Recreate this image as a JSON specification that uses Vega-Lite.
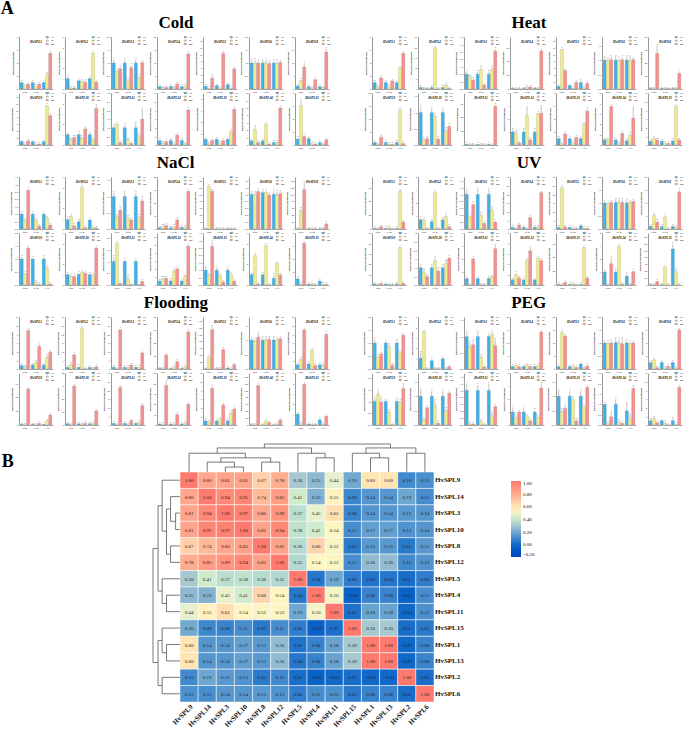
{"$schema":"https://vega.github.io/schema/vega-lite/v6.json","padding":0,"background":"white",
"title":{"text":"A","anchor":"start","font":"Liberation Serif","fontSize":18,"fontWeight":"bold","offset":-4,"dx":-1},
"config":{"view":{"stroke":null},"font":"Liberation Serif",
"axis":{"grid":false,"labelFont":"Liberation Serif","titleFont":"Liberation Serif","labelFontSize":2.6,"titleFontSize":2.8,"tickSize":1,"tickWidth":0.3,"labelPadding":0.5,"titlePadding":1,"titleFontWeight":"bold","domainColor":"#999","tickColor":"#666","labelColor":"#333"},
"axisY":{"domainWidth":1,"tickCount":5,"labelOverlap":false},"axisX":{"domainWidth":0.5,"domainColor":"#555","labelAngle":0,"title":null},
"header":{"title":null,"labelFont":"Liberation Serif","labelFontSize":3.4,"labelFontWeight":"bold","labelFontStyle":"italic","labelPadding":-7,"labelExpr":"'HvSPL'+datum.value"},
"legend":{"orient":"none","legendX":27,"legendY":-1,"title":null,"labelFontSize":2.4,"labelFont":"Liberation Serif","symbolType":"M-1.6,-0.85H1.6V0.85H-1.6Z","symbolSize":2.2,"symbolStrokeColor":"#333","symbolStrokeWidth":0.2,"rowPadding":0.4,"padding":0,"labelOffset":2.5,"symbolOffset":0,"columnPadding":0},
"title":{"font":"Liberation Serif","fontSize":17,"fontWeight":"bold","anchor":"middle","dx":5}},
"datasets":{
"cold":[
{"g":1,"t":"Root","c":"CK","v":1,"h":1.1,"l":"b","m":8},{"g":1,"t":"Root","c":"6h","v":0.5,"h":0.55,"l":"c"},{"g":1,"t":"Root","c":"24h","v":0.75,"h":0.81,"l":"b"},{"g":1,"t":"Stem","c":"CK","v":1,"h":1.1,"l":"a"},{"g":1,"t":"Stem","c":"6h","v":0.4,"h":0.45,"l":"c"},{"g":1,"t":"Stem","c":"24h","v":0.75,"h":0.83,"l":"b"},{"g":1,"t":"Leaf","c":"CK","v":1,"h":1.1,"l":"c"},{"g":1,"t":"Leaf","c":"6h","v":2.2,"h":2.4,"l":"b"},{"g":1,"t":"Leaf","c":"24h","v":5.5,"h":5.6,"l":"a"},
{"g":2,"t":"Root","c":"CK","v":1,"h":1.25,"l":"a","m":5},{"g":2,"t":"Root","c":"6h","v":0.1,"h":0.12,"l":"b"},{"g":2,"t":"Root","c":"24h","v":0.1,"h":0.12,"l":"b"},{"g":2,"t":"Stem","c":"CK","v":0.8,"h":0.9,"l":"a"},{"g":2,"t":"Stem","c":"6h","v":0.7,"h":0.85,"l":"a"},{"g":2,"t":"Stem","c":"24h","v":0.65,"h":0.85,"l":"a"},{"g":2,"t":"Leaf","c":"CK","v":1,"h":1.05,"l":"b"},{"g":2,"t":"Leaf","c":"6h","v":3.45,"h":3.55,"l":"a"},{"g":2,"t":"Leaf","c":"24h","v":0.65,"h":0.75,"l":"c"},
{"g":3,"t":"Root","c":"CK","v":1,"h":1.12,"l":"a","m":2},{"g":3,"t":"Root","c":"6h","v":0.68,"h":0.73,"l":"a"},{"g":3,"t":"Root","c":"24h","v":0.78,"h":0.85,"l":"a"},{"g":3,"t":"Stem","c":"CK","v":1,"h":1.12,"l":"a"},{"g":3,"t":"Stem","c":"6h","v":0.3,"h":0.36,"l":"b"},{"g":3,"t":"Stem","c":"24h","v":0.82,"h":0.92,"l":"a"},{"g":3,"t":"Leaf","c":"CK","v":1,"h":1.12,"l":"a"},{"g":3,"t":"Leaf","c":"6h","v":0.45,"h":0.5,"l":"b"},{"g":3,"t":"Leaf","c":"24h","v":1.02,"h":1.05,"l":"a"},
{"g":4,"t":"Root","c":"CK","v":1,"h":1.1,"l":"a","m":20},{"g":4,"t":"Root","c":"6h","v":0.6,"h":0.7,"l":"a"},{"g":4,"t":"Root","c":"24h","v":0.6,"h":0.7,"l":"a"},{"g":4,"t":"Stem","c":"CK","v":1,"h":1.1,"l":"b"},{"g":4,"t":"Stem","c":"6h","v":0.6,"h":0.7,"l":"b"},{"g":4,"t":"Stem","c":"24h","v":1.9,"h":2.1,"l":"a"},{"g":4,"t":"Leaf","c":"CK","v":1,"h":1.1,"l":"b"},{"g":4,"t":"Leaf","c":"6h","v":1,"h":1.2,"l":"b"},{"g":4,"t":"Leaf","c":"24h","v":13.5,"h":13.9,"l":"a"},
{"g":5,"t":"Root","c":"CK","v":0.8,"h":0.9,"l":"b","m":15},{"g":5,"t":"Root","c":"6h","v":0.2,"h":0.25,"l":"c"},{"g":5,"t":"Root","c":"24h","v":3.1,"h":3.9,"l":"a"},{"g":5,"t":"Stem","c":"CK","v":1,"h":1.1,"l":"b"},{"g":5,"t":"Stem","c":"6h","v":0.3,"h":0.35,"l":"c"},{"g":5,"t":"Stem","c":"24h","v":10.3,"h":10.5,"l":"a"},{"g":5,"t":"Leaf","c":"CK","v":1.3,"h":1.6,"l":"b"},{"g":5,"t":"Leaf","c":"6h","v":0.2,"h":0.25,"l":"c"},{"g":5,"t":"Leaf","c":"24h","v":5.8,"h":6,"l":"a"},
{"g":6,"t":"Root","c":"CK","v":1,"h":1.1,"l":"a","m":2},{"g":6,"t":"Root","c":"6h","v":0.98,"h":1.12,"l":"a"},{"g":6,"t":"Root","c":"24h","v":1,"h":1.1,"l":"a"},{"g":6,"t":"Stem","c":"CK","v":1,"h":1.1,"l":"a"},{"g":6,"t":"Stem","c":"6h","v":1,"h":1.12,"l":"a"},{"g":6,"t":"Stem","c":"24h","v":0.98,"h":1.06,"l":"a"},{"g":6,"t":"Leaf","c":"CK","v":1,"h":1.1,"l":"a"},{"g":6,"t":"Leaf","c":"6h","v":0.97,"h":1.09,"l":"a"},{"g":6,"t":"Leaf","c":"24h","v":1.02,"h":1.06,"l":"a"},
{"g":8,"t":"Root","c":"CK","v":1.2,"h":1.4,"l":"c","m":20},{"g":8,"t":"Root","c":"6h","v":3.2,"h":3.5,"l":"b"},{"g":8,"t":"Root","c":"24h","v":8.4,"h":10,"l":"a"},{"g":8,"t":"Stem","c":"CK","v":1,"h":1.1,"l":"b"},{"g":8,"t":"Stem","c":"6h","v":0.5,"h":0.6,"l":"c"},{"g":8,"t":"Stem","c":"24h","v":3.6,"h":3.9,"l":"a"},{"g":8,"t":"Leaf","c":"CK","v":1,"h":1.2,"l":"b"},{"g":8,"t":"Leaf","c":"6h","v":0.6,"h":0.7,"l":"b"},{"g":8,"t":"Leaf","c":"24h","v":14.2,"h":15.6,"l":"a"},
{"g":9,"t":"Root","c":"CK","v":1,"h":1.1,"l":"b","m":15},{"g":9,"t":"Root","c":"6h","v":0.3,"h":0.35,"l":"c"},{"g":9,"t":"Root","c":"24h","v":1.2,"h":1.3,"l":"a"},{"g":9,"t":"Stem","c":"CK","v":1,"h":1.1,"l":"a"},{"g":9,"t":"Stem","c":"6h","v":0.2,"h":0.25,"l":"b"},{"g":9,"t":"Stem","c":"24h","v":0.3,"h":0.35,"l":"b"},{"g":9,"t":"Leaf","c":"CK","v":1,"h":1.1,"l":"c"},{"g":9,"t":"Leaf","c":"6h","v":11.3,"h":11.5,"l":"a"},{"g":9,"t":"Leaf","c":"24h","v":8.5,"h":8.7,"l":"b"},
{"g":10,"t":"Root","c":"CK","v":1,"h":1.1,"l":"a","m":5},{"g":10,"t":"Root","c":"6h","v":0.5,"h":0.55,"l":"b"},{"g":10,"t":"Root","c":"24h","v":0.75,"h":0.79,"l":"ab"},{"g":10,"t":"Stem","c":"CK","v":1,"h":1.15,"l":"b"},{"g":10,"t":"Stem","c":"6h","v":0.65,"h":0.8,"l":"c"},{"g":10,"t":"Stem","c":"24h","v":1.55,"h":1.6,"l":"a"},{"g":10,"t":"Leaf","c":"CK","v":1,"h":1.1,"l":"b"},{"g":10,"t":"Leaf","c":"6h","v":0.5,"h":0.6,"l":"c"},{"g":10,"t":"Leaf","c":"24h","v":3.5,"h":3.8,"l":"a"},
{"g":11,"t":"Root","c":"CK","v":1,"h":1.12,"l":"a","m":3},{"g":11,"t":"Root","c":"6h","v":1.2,"h":1.22,"l":"a"},{"g":11,"t":"Root","c":"24h","v":0.15,"h":0.17,"l":"b"},{"g":11,"t":"Stem","c":"CK","v":1,"h":1.15,"l":"a"},{"g":11,"t":"Stem","c":"6h","v":0.3,"h":0.33,"l":"b"},{"g":11,"t":"Stem","c":"24h","v":0.1,"h":0.12,"l":"c"},{"g":11,"t":"Leaf","c":"CK","v":1,"h":1.3,"l":"a"},{"g":11,"t":"Leaf","c":"6h","v":0.5,"h":0.6,"l":"a"},{"g":11,"t":"Leaf","c":"24h","v":1.5,"h":2.1,"l":"a"},
{"g":12,"t":"Root","c":"CK","v":1,"h":1.2,"l":"a","m":12},{"g":12,"t":"Root","c":"6h","v":0.4,"h":0.5,"l":"b"},{"g":12,"t":"Root","c":"24h","v":0.8,"h":0.9,"l":"a"},{"g":12,"t":"Stem","c":"CK","v":1.05,"h":1.25,"l":"b"},{"g":12,"t":"Stem","c":"6h","v":0.25,"h":0.3,"l":"c"},{"g":12,"t":"Stem","c":"24h","v":2.3,"h":2.4,"l":"a"},{"g":12,"t":"Leaf","c":"CK","v":1.05,"h":1.25,"l":"b"},{"g":12,"t":"Leaf","c":"6h","v":0.3,"h":0.4,"l":"c"},{"g":12,"t":"Leaf","c":"24h","v":8.1,"h":8.3,"l":"a"},
{"g":13,"t":"Root","c":"CK","v":1,"h":1.1,"l":"a","m":9},{"g":13,"t":"Root","c":"6h","v":0.2,"h":0.25,"l":"b"},{"g":13,"t":"Root","c":"24h","v":0.8,"h":0.9,"l":"a"},{"g":13,"t":"Stem","c":"CK","v":1,"h":1.1,"l":"a"},{"g":13,"t":"Stem","c":"6h","v":0.3,"h":0.35,"l":"b"},{"g":13,"t":"Stem","c":"24h","v":0.8,"h":0.85,"l":"a"},{"g":13,"t":"Leaf","c":"CK","v":1,"h":1.1,"l":"c"},{"g":13,"t":"Leaf","c":"6h","v":2.3,"h":2.5,"l":"b"},{"g":13,"t":"Leaf","c":"24h","v":6.2,"h":6.3,"l":"a"},
{"g":14,"t":"Root","c":"CK","v":1.1,"h":1.3,"l":"b","m":14},{"g":14,"t":"Root","c":"6h","v":4.1,"h":5,"l":"a"},{"g":14,"t":"Root","c":"24h","v":0.7,"h":0.8,"l":"b"},{"g":14,"t":"Stem","c":"CK","v":1.1,"h":1.3,"l":"b"},{"g":14,"t":"Stem","c":"6h","v":5.5,"h":5.7,"l":"a"},{"g":14,"t":"Stem","c":"24h","v":0.3,"h":0.4,"l":"c"},{"g":14,"t":"Leaf","c":"CK","v":0.7,"h":0.9,"l":"b"},{"g":14,"t":"Leaf","c":"6h","v":0.7,"h":0.9,"l":"b"},{"g":14,"t":"Leaf","c":"24h","v":10,"h":10.2,"l":"a"},
{"g":15,"t":"Root","c":"CK","v":0.9,"h":1.1,"l":"b","m":8},{"g":15,"t":"Root","c":"6h","v":6.1,"h":6.9,"l":"a"},{"g":15,"t":"Root","c":"24h","v":1.3,"h":1.4,"l":"b"},{"g":15,"t":"Stem","c":"CK","v":1,"h":1.2,"l":"a"},{"g":15,"t":"Stem","c":"6h","v":0.25,"h":0.3,"l":"b"},{"g":15,"t":"Stem","c":"24h","v":0.15,"h":0.18,"l":"b"},{"g":15,"t":"Leaf","c":"CK","v":0.4,"h":0.5,"l":"b"},{"g":15,"t":"Leaf","c":"6h","v":0.15,"h":0.2,"l":"c"},{"g":15,"t":"Leaf","c":"24h","v":0.8,"h":0.9,"l":"a"}
],
"heat":[
{"g":1,"t":"Root","c":"CK","v":1,"h":1.2,"l":"b","m":8},{"g":1,"t":"Root","c":"6h","v":0.4,"h":0.45,"l":"c"},{"g":1,"t":"Root","c":"24h","v":1.7,"h":1.85,"l":"a"},{"g":1,"t":"Stem","c":"CK","v":1,"h":1.2,"l":"a"},{"g":1,"t":"Stem","c":"6h","v":0.4,"h":0.45,"l":"b"},{"g":1,"t":"Stem","c":"24h","v":1.25,"h":1.35,"l":"a"},{"g":1,"t":"Leaf","c":"CK","v":1,"h":1.2,"l":"c"},{"g":1,"t":"Leaf","c":"6h","v":3.2,"h":3.3,"l":"b"},{"g":1,"t":"Leaf","c":"24h","v":5.5,"h":5.6,"l":"a"},
{"g":2,"t":"Root","c":"CK","v":0.8,"h":1,"l":"a","m":25},{"g":2,"t":"Root","c":"6h","v":0.15,"h":0.2,"l":"b"},{"g":2,"t":"Root","c":"24h","v":0.3,"h":0.4,"l":"b"},{"g":2,"t":"Stem","c":"CK","v":0.8,"h":1,"l":"b"},{"g":2,"t":"Stem","c":"6h","v":19.8,"h":20,"l":"a"},{"g":2,"t":"Stem","c":"24h","v":0.15,"h":0.2,"l":"c"},{"g":2,"t":"Leaf","c":"CK","v":0.8,"h":1,"l":"b"},{"g":2,"t":"Leaf","c":"6h","v":1.9,"h":2.3,"l":"a"},{"g":2,"t":"Leaf","c":"24h","v":0.3,"h":0.4,"l":"c"},
{"g":3,"t":"Root","c":"CK","v":1,"h":1.15,"l":"a","m":3.5},{"g":3,"t":"Root","c":"6h","v":0.8,"h":0.85,"l":"ab"},{"g":3,"t":"Root","c":"24h","v":0.6,"h":0.7,"l":"b"},{"g":3,"t":"Stem","c":"CK","v":1,"h":1.15,"l":"a"},{"g":3,"t":"Stem","c":"6h","v":1.3,"h":1.5,"l":"a"},{"g":3,"t":"Stem","c":"24h","v":0.27,"h":0.3,"l":"b"},{"g":3,"t":"Leaf","c":"CK","v":1,"h":1.15,"l":"b"},{"g":3,"t":"Leaf","c":"6h","v":1.3,"h":1.5,"l":"b"},{"g":3,"t":"Leaf","c":"24h","v":2.55,"h":2.7,"l":"a"},
{"g":4,"t":"Root","c":"CK","v":1,"h":1.2,"l":"a","m":75},{"g":4,"t":"Root","c":"6h","v":0.5,"h":0.6,"l":"a"},{"g":4,"t":"Root","c":"24h","v":0.5,"h":0.6,"l":"a"},{"g":4,"t":"Stem","c":"CK","v":1,"h":1.2,"l":"b"},{"g":4,"t":"Stem","c":"6h","v":3,"h":3.5,"l":"a"},{"g":4,"t":"Stem","c":"24h","v":3,"h":3.4,"l":"a"},{"g":4,"t":"Leaf","c":"CK","v":1,"h":1.2,"l":"b"},{"g":4,"t":"Leaf","c":"6h","v":1,"h":1.2,"l":"b"},{"g":4,"t":"Leaf","c":"24h","v":55,"h":56,"l":"a"},
{"g":5,"t":"Root","c":"CK","v":0.8,"h":1,"l":"c","m":15},{"g":5,"t":"Root","c":"6h","v":11.4,"h":11.6,"l":"a"},{"g":5,"t":"Root","c":"24h","v":5.3,"h":5.4,"l":"b"},{"g":5,"t":"Stem","c":"CK","v":1,"h":1.1,"l":"b"},{"g":5,"t":"Stem","c":"6h","v":0.2,"h":0.3,"l":"c"},{"g":5,"t":"Stem","c":"24h","v":1.9,"h":2.2,"l":"a"},{"g":5,"t":"Leaf","c":"CK","v":1.9,"h":2.5,"l":"a"},{"g":5,"t":"Leaf","c":"6h","v":0.3,"h":0.4,"l":"b"},{"g":5,"t":"Leaf","c":"24h","v":1.6,"h":1.9,"l":"a"},
{"g":6,"t":"Root","c":"CK","v":1,"h":1.1,"l":"a","m":1.8},{"g":6,"t":"Root","c":"6h","v":0.98,"h":1.06,"l":"a"},{"g":6,"t":"Root","c":"24h","v":1.02,"h":1.12,"l":"a"},{"g":6,"t":"Stem","c":"CK","v":1,"h":1.13,"l":"a"},{"g":6,"t":"Stem","c":"6h","v":0.97,"h":1.07,"l":"a"},{"g":6,"t":"Stem","c":"24h","v":1.01,"h":1.12,"l":"a"},{"g":6,"t":"Leaf","c":"CK","v":1,"h":1.12,"l":"a"},{"g":6,"t":"Leaf","c":"6h","v":0.97,"h":1.13,"l":"a"},{"g":6,"t":"Leaf","c":"24h","v":1.02,"h":1.06,"l":"a"},
{"g":8,"t":"Root","c":"CK","v":1,"h":1.2,"l":"b","m":80},{"g":8,"t":"Root","c":"6h","v":1,"h":1.2,"l":"b"},{"g":8,"t":"Root","c":"24h","v":55,"h":67,"l":"a"},{"g":8,"t":"Stem","c":"CK","v":1,"h":1.2,"l":"a"},{"g":8,"t":"Stem","c":"6h","v":1,"h":1.2,"l":"a"},{"g":8,"t":"Stem","c":"24h","v":1,"h":1.2,"l":"a"},{"g":8,"t":"Leaf","c":"CK","v":1,"h":1.2,"l":"b"},{"g":8,"t":"Leaf","c":"6h","v":1,"h":1.2,"l":"b"},{"g":8,"t":"Leaf","c":"24h","v":24,"h":26,"l":"a"},
{"g":9,"t":"Root","c":"CK","v":1,"h":1.2,"l":"b","m":20},{"g":9,"t":"Root","c":"6h","v":0.4,"h":0.5,"l":"c"},{"g":9,"t":"Root","c":"24h","v":3,"h":3.3,"l":"a"},{"g":9,"t":"Stem","c":"CK","v":1,"h":1.3,"l":"a"},{"g":9,"t":"Stem","c":"6h","v":0.3,"h":0.4,"l":"b"},{"g":9,"t":"Stem","c":"24h","v":0.3,"h":0.4,"l":"b"},{"g":9,"t":"Leaf","c":"CK","v":1,"h":1.3,"l":"b"},{"g":9,"t":"Leaf","c":"6h","v":13.5,"h":14,"l":"a"},{"g":9,"t":"Leaf","c":"24h","v":0.6,"h":0.8,"l":"b"},
{"g":10,"t":"Root","c":"CK","v":1,"h":1.18,"l":"a","m":1.6},{"g":10,"t":"Root","c":"6h","v":0.15,"h":0.19,"l":"b"},{"g":10,"t":"Root","c":"24h","v":0.2,"h":0.24,"l":"b"},{"g":10,"t":"Stem","c":"CK","v":1,"h":1.12,"l":"a"},{"g":10,"t":"Stem","c":"6h","v":0.88,"h":0.93,"l":"a"},{"g":10,"t":"Stem","c":"24h","v":0.18,"h":0.22,"l":"b"},{"g":10,"t":"Leaf","c":"CK","v":1,"h":1.12,"l":"a"},{"g":10,"t":"Leaf","c":"6h","v":0.42,"h":0.5,"l":"b"},{"g":10,"t":"Leaf","c":"24h","v":0.57,"h":0.62,"l":"b"},
{"g":11,"t":"Root","c":"CK","v":1,"h":1.3,"l":"a","m":75},{"g":11,"t":"Root","c":"6h","v":0.4,"h":0.5,"l":"b"},{"g":11,"t":"Root","c":"24h","v":0.4,"h":0.5,"l":"b"},{"g":11,"t":"Stem","c":"CK","v":1,"h":1.3,"l":"a"},{"g":11,"t":"Stem","c":"6h","v":0.4,"h":0.5,"l":"b"},{"g":11,"t":"Stem","c":"24h","v":0.4,"h":0.5,"l":"b"},{"g":11,"t":"Leaf","c":"CK","v":1,"h":1.3,"l":"b"},{"g":11,"t":"Leaf","c":"6h","v":0.4,"h":0.5,"l":"c"},{"g":11,"t":"Leaf","c":"24h","v":56,"h":58,"l":"a"},
{"g":12,"t":"Root","c":"CK","v":1,"h":1.2,"l":"a","m":4},{"g":12,"t":"Root","c":"6h","v":0.9,"h":1.05,"l":"a"},{"g":12,"t":"Root","c":"24h","v":0.15,"h":0.2,"l":"b"},{"g":12,"t":"Stem","c":"CK","v":1,"h":1.2,"l":"b"},{"g":12,"t":"Stem","c":"6h","v":2.25,"h":2.9,"l":"a"},{"g":12,"t":"Stem","c":"24h","v":0.4,"h":0.5,"l":"c"},{"g":12,"t":"Leaf","c":"CK","v":1,"h":1.15,"l":"b"},{"g":12,"t":"Leaf","c":"6h","v":2.4,"h":2.5,"l":"a"},{"g":12,"t":"Leaf","c":"24h","v":2.45,"h":2.95,"l":"a"},
{"g":13,"t":"Root","c":"CK","v":1,"h":1.2,"l":"b","m":8},{"g":13,"t":"Root","c":"6h","v":0.2,"h":0.25,"l":"c"},{"g":13,"t":"Root","c":"24h","v":1.7,"h":1.85,"l":"a"},{"g":13,"t":"Stem","c":"CK","v":1,"h":1.1,"l":"a"},{"g":13,"t":"Stem","c":"6h","v":0.4,"h":0.45,"l":"b"},{"g":13,"t":"Stem","c":"24h","v":1.2,"h":1.25,"l":"a"},{"g":13,"t":"Leaf","c":"CK","v":1,"h":1.15,"l":"c"},{"g":13,"t":"Leaf","c":"6h","v":3.2,"h":3.3,"l":"b"},{"g":13,"t":"Leaf","c":"24h","v":5.2,"h":5.6,"l":"a"},
{"g":14,"t":"Root","c":"CK","v":1,"h":1.1,"l":"b","m":10},{"g":14,"t":"Root","c":"6h","v":1,"h":1.1,"l":"b"},{"g":14,"t":"Root","c":"24h","v":7.4,"h":7.6,"l":"a"},{"g":14,"t":"Stem","c":"CK","v":1,"h":1.2,"l":"b"},{"g":14,"t":"Stem","c":"6h","v":0.4,"h":0.5,"l":"c"},{"g":14,"t":"Stem","c":"24h","v":2.25,"h":2.4,"l":"a"},{"g":14,"t":"Leaf","c":"CK","v":0.8,"h":1.1,"l":"b"},{"g":14,"t":"Leaf","c":"6h","v":1.9,"h":2.1,"l":"b"},{"g":14,"t":"Leaf","c":"24h","v":5.2,"h":7.2,"l":"a"},
{"g":15,"t":"Root","c":"CK","v":0.9,"h":1,"l":"b","m":12},{"g":15,"t":"Root","c":"6h","v":1.55,"h":1.7,"l":"a"},{"g":15,"t":"Root","c":"24h","v":1.15,"h":1.25,"l":"ab"},{"g":15,"t":"Stem","c":"CK","v":0.9,"h":1,"l":"a"},{"g":15,"t":"Stem","c":"6h","v":0.4,"h":0.45,"l":"b"},{"g":15,"t":"Stem","c":"24h","v":0.4,"h":0.45,"l":"b"},{"g":15,"t":"Leaf","c":"CK","v":0.95,"h":1.15,"l":"b"},{"g":15,"t":"Leaf","c":"6h","v":8.9,"h":9.1,"l":"a"},{"g":15,"t":"Leaf","c":"24h","v":1.15,"h":1.3,"l":"b"}
],
"nacl":[
{"g":1,"t":"Root","c":"CK","v":1,"h":1.1,"l":"b","m":3.5},{"g":1,"t":"Root","c":"6h","v":0.6,"h":0.68,"l":"c"},{"g":1,"t":"Root","c":"24h","v":2.6,"h":2.7,"l":"a"},{"g":1,"t":"Stem","c":"CK","v":1,"h":1.1,"l":"a"},{"g":1,"t":"Stem","c":"6h","v":0.6,"h":0.65,"l":"b"},{"g":1,"t":"Stem","c":"24h","v":0.2,"h":0.25,"l":"c"},{"g":1,"t":"Leaf","c":"CK","v":1,"h":1.1,"l":"a"},{"g":1,"t":"Leaf","c":"6h","v":0.73,"h":0.78,"l":"b"},{"g":1,"t":"Leaf","c":"24h","v":0.27,"h":0.32,"l":"c"},
{"g":2,"t":"Root","c":"CK","v":0.9,"h":1.05,"l":"a","m":5},{"g":2,"t":"Root","c":"6h","v":1.2,"h":1.3,"l":"a"},{"g":2,"t":"Root","c":"24h","v":0.3,"h":0.4,"l":"b"},{"g":2,"t":"Stem","c":"CK","v":0.7,"h":0.85,"l":"b"},{"g":2,"t":"Stem","c":"6h","v":4,"h":4.1,"l":"a"},{"g":2,"t":"Stem","c":"24h","v":0.15,"h":0.18,"l":"c"},{"g":2,"t":"Leaf","c":"CK","v":0.87,"h":0.95,"l":"a"},{"g":2,"t":"Leaf","c":"6h","v":0.15,"h":0.2,"l":"b"},{"g":2,"t":"Leaf","c":"24h","v":0.1,"h":0.13,"l":"b"},
{"g":3,"t":"Root","c":"CK","v":1,"h":1.12,"l":"a","m":1.6},{"g":3,"t":"Root","c":"6h","v":0.38,"h":0.42,"l":"b"},{"g":3,"t":"Root","c":"24h","v":0.57,"h":0.67,"l":"b"},{"g":3,"t":"Stem","c":"CK","v":1,"h":1.12,"l":"a"},{"g":3,"t":"Stem","c":"6h","v":0.34,"h":0.38,"l":"b"},{"g":3,"t":"Stem","c":"24h","v":0.28,"h":0.32,"l":"b"},{"g":3,"t":"Leaf","c":"CK","v":1,"h":1.12,"l":"a"},{"g":3,"t":"Leaf","c":"6h","v":0.36,"h":0.4,"l":"b"},{"g":3,"t":"Leaf","c":"24h","v":0.86,"h":0.96,"l":"a"},
{"g":4,"t":"Root","c":"CK","v":1,"h":1.3,"l":"b","m":40},{"g":4,"t":"Root","c":"6h","v":1.8,"h":2.6,"l":"ab"},{"g":4,"t":"Root","c":"24h","v":2.8,"h":3.5,"l":"a"},{"g":4,"t":"Stem","c":"CK","v":1,"h":1.4,"l":"b"},{"g":4,"t":"Stem","c":"6h","v":1.8,"h":2.4,"l":"b"},{"g":4,"t":"Stem","c":"24h","v":7,"h":8,"l":"a"},{"g":4,"t":"Leaf","c":"CK","v":1.3,"h":1.7,"l":"b"},{"g":4,"t":"Leaf","c":"6h","v":1.3,"h":1.6,"l":"b"},{"g":4,"t":"Leaf","c":"24h","v":29,"h":29.5,"l":"a"},
{"g":5,"t":"Root","c":"CK","v":1,"h":1.2,"l":"c","m":150},{"g":5,"t":"Root","c":"6h","v":123,"h":125,"l":"a"},{"g":5,"t":"Root","c":"24h","v":109,"h":111,"l":"b"},{"g":5,"t":"Stem","c":"CK","v":1,"h":1.2,"l":"a"},{"g":5,"t":"Stem","c":"6h","v":0.8,"h":1,"l":"a"},{"g":5,"t":"Stem","c":"24h","v":0.5,"h":0.6,"l":"a"},{"g":5,"t":"Leaf","c":"CK","v":1,"h":1.2,"l":"a"},{"g":5,"t":"Leaf","c":"6h","v":0.8,"h":1,"l":"a"},{"g":5,"t":"Leaf","c":"24h","v":0.5,"h":0.6,"l":"a"},
{"g":6,"t":"Root","c":"CK","v":1,"h":1.06,"l":"a","m":1.5},{"g":6,"t":"Root","c":"6h","v":1,"h":1.06,"l":"a"},{"g":6,"t":"Root","c":"24h","v":1.08,"h":1.14,"l":"a"},{"g":6,"t":"Stem","c":"CK","v":1.05,"h":1.12,"l":"a"},{"g":6,"t":"Stem","c":"6h","v":1.05,"h":1.1,"l":"a"},{"g":6,"t":"Stem","c":"24h","v":0.97,"h":1.03,"l":"a"},{"g":6,"t":"Leaf","c":"CK","v":1,"h":1.1,"l":"a"},{"g":6,"t":"Leaf","c":"6h","v":0.97,"h":1.08,"l":"a"},{"g":6,"t":"Leaf","c":"24h","v":1.02,"h":1.08,"l":"a"},
{"g":8,"t":"Root","c":"CK","v":1,"h":1.2,"l":"c","m":150},{"g":8,"t":"Root","c":"6h","v":53,"h":58,"l":"b"},{"g":8,"t":"Root","c":"24h","v":114,"h":134,"l":"a"},{"g":8,"t":"Stem","c":"CK","v":1,"h":1.2,"l":"a"},{"g":8,"t":"Stem","c":"6h","v":2,"h":3,"l":"a"},{"g":8,"t":"Stem","c":"24h","v":1,"h":1.3,"l":"a"},{"g":8,"t":"Leaf","c":"CK","v":1,"h":1.2,"l":"b"},{"g":8,"t":"Leaf","c":"6h","v":0.9,"h":1.1,"l":"b"},{"g":8,"t":"Leaf","c":"24h","v":15,"h":17,"l":"a"},
{"g":9,"t":"Root","c":"CK","v":1,"h":1.08,"l":"b","m":2},{"g":9,"t":"Root","c":"6h","v":0.43,"h":0.47,"l":"c"},{"g":9,"t":"Root","c":"24h","v":1.42,"h":1.46,"l":"a"},{"g":9,"t":"Stem","c":"CK","v":1,"h":1.04,"l":"a"},{"g":9,"t":"Stem","c":"6h","v":0.1,"h":0.14,"l":"b"},{"g":9,"t":"Stem","c":"24h","v":0.03,"h":0.04,"l":"c"},{"g":9,"t":"Leaf","c":"CK","v":1,"h":1.08,"l":"a"},{"g":9,"t":"Leaf","c":"6h","v":0.65,"h":0.7,"l":"b"},{"g":9,"t":"Leaf","c":"24h","v":0.04,"h":0.05,"l":"c"},
{"g":10,"t":"Root","c":"CK","v":1,"h":1.1,"l":"a","m":5},{"g":10,"t":"Root","c":"6h","v":0.85,"h":0.95,"l":"a"},{"g":10,"t":"Root","c":"24h","v":0.8,"h":0.98,"l":"a"},{"g":10,"t":"Stem","c":"CK","v":1.03,"h":1.15,"l":"a"},{"g":10,"t":"Stem","c":"6h","v":1.2,"h":1.32,"l":"a"},{"g":10,"t":"Stem","c":"24h","v":1.13,"h":1.23,"l":"a"},{"g":10,"t":"Leaf","c":"CK","v":1,"h":1.08,"l":"b"},{"g":10,"t":"Leaf","c":"6h","v":0.9,"h":1,"l":"b"},{"g":10,"t":"Leaf","c":"24h","v":3.55,"h":3.65,"l":"a"},
{"g":11,"t":"Root","c":"CK","v":1,"h":1.2,"l":"b","m":2.2},{"g":11,"t":"Root","c":"6h","v":1.75,"h":1.78,"l":"a"},{"g":11,"t":"Root","c":"24h","v":0.07,"h":0.09,"l":"c"},{"g":11,"t":"Stem","c":"CK","v":1,"h":1.06,"l":"a"},{"g":11,"t":"Stem","c":"6h","v":0.26,"h":0.4,"l":"b"},{"g":11,"t":"Stem","c":"24h","v":0.03,"h":0.04,"l":"c"},{"g":11,"t":"Leaf","c":"CK","v":1,"h":1.06,"l":"a"},{"g":11,"t":"Leaf","c":"6h","v":0.03,"h":0.04,"l":"c"},{"g":11,"t":"Leaf","c":"24h","v":0.15,"h":0.2,"l":"b"},
{"g":12,"t":"Root","c":"CK","v":1,"h":1.15,"l":"b","m":13},{"g":12,"t":"Root","c":"6h","v":1.5,"h":1.8,"l":"ab"},{"g":12,"t":"Root","c":"24h","v":1.7,"h":1.9,"l":"a"},{"g":12,"t":"Stem","c":"CK","v":1,"h":1.3,"l":"b"},{"g":12,"t":"Stem","c":"6h","v":3.5,"h":4,"l":"a"},{"g":12,"t":"Stem","c":"24h","v":4,"h":4.3,"l":"a"},{"g":12,"t":"Leaf","c":"CK","v":1,"h":1.2,"l":"c"},{"g":12,"t":"Leaf","c":"6h","v":2.1,"h":2.2,"l":"b"},{"g":12,"t":"Leaf","c":"24h","v":9.7,"h":9.9,"l":"a"},
{"g":13,"t":"Root","c":"CK","v":1,"h":1.2,"l":"b","m":3.5},{"g":13,"t":"Root","c":"6h","v":0.65,"h":0.72,"l":"b"},{"g":13,"t":"Root","c":"24h","v":2.6,"h":2.9,"l":"a"},{"g":13,"t":"Stem","c":"CK","v":1,"h":1.15,"l":"a"},{"g":13,"t":"Stem","c":"6h","v":0.63,"h":0.68,"l":"b"},{"g":13,"t":"Stem","c":"24h","v":0.2,"h":0.25,"l":"c"},{"g":13,"t":"Leaf","c":"CK","v":1,"h":1.15,"l":"a"},{"g":13,"t":"Leaf","c":"6h","v":0.7,"h":0.75,"l":"b"},{"g":13,"t":"Leaf","c":"24h","v":0.25,"h":0.35,"l":"c"},
{"g":14,"t":"Root","c":"CK","v":1,"h":1.04,"l":"b","m":5},{"g":14,"t":"Root","c":"6h","v":2.85,"h":2.9,"l":"a"},{"g":14,"t":"Root","c":"24h","v":0.1,"h":0.14,"l":"c"},{"g":14,"t":"Stem","c":"CK","v":1,"h":1.1,"l":"b"},{"g":14,"t":"Stem","c":"6h","v":3.8,"h":3.85,"l":"a"},{"g":14,"t":"Stem","c":"24h","v":0.03,"h":0.04,"l":"c"},{"g":14,"t":"Leaf","c":"CK","v":0.65,"h":0.95,"l":"b"},{"g":14,"t":"Leaf","c":"6h","v":2.1,"h":2.15,"l":"a"},{"g":14,"t":"Leaf","c":"24h","v":0.97,"h":1,"l":"b"},
{"g":15,"t":"Root","c":"CK","v":0.95,"h":1.1,"l":"b","m":8},{"g":15,"t":"Root","c":"6h","v":0.15,"h":0.2,"l":"c"},{"g":15,"t":"Root","c":"24h","v":6.45,"h":6.5,"l":"a"},{"g":15,"t":"Stem","c":"CK","v":0.15,"h":0.2,"l":"a"},{"g":15,"t":"Stem","c":"6h","v":0.25,"h":0.3,"l":"a"},{"g":15,"t":"Stem","c":"24h","v":0.05,"h":0.06,"l":"b"},{"g":15,"t":"Leaf","c":"CK","v":0.6,"h":0.7,"l":"a"},{"g":15,"t":"Leaf","c":"6h","v":0.15,"h":0.2,"l":"b"},{"g":15,"t":"Leaf","c":"24h","v":0.1,"h":0.14,"l":"b"}
],
"uv":[
{"g":1,"t":"Root","c":"CK","v":1,"h":1.3,"l":"b","m":75},{"g":1,"t":"Root","c":"6h","v":0.5,"h":0.6,"l":"c"},{"g":1,"t":"Root","c":"24h","v":3.4,"h":3.8,"l":"a"},{"g":1,"t":"Stem","c":"CK","v":1,"h":1.3,"l":"b"},{"g":1,"t":"Stem","c":"6h","v":2.5,"h":3.5,"l":"a"},{"g":1,"t":"Stem","c":"24h","v":0.5,"h":0.6,"l":"c"},{"g":1,"t":"Leaf","c":"CK","v":1,"h":1.3,"l":"c"},{"g":1,"t":"Leaf","c":"6h","v":55,"h":56,"l":"a"},{"g":1,"t":"Leaf","c":"24h","v":10,"h":11,"l":"b"},
{"g":2,"t":"Root","c":"CK","v":0.72,"h":0.85,"l":"a","m":4},{"g":2,"t":"Root","c":"6h","v":0.7,"h":0.8,"l":"a"},{"g":2,"t":"Root","c":"24h","v":0.03,"h":0.04,"l":"b"},{"g":2,"t":"Stem","c":"CK","v":0.57,"h":0.65,"l":"b"},{"g":2,"t":"Stem","c":"6h","v":2.8,"h":2.9,"l":"a"},{"g":2,"t":"Stem","c":"24h","v":0.03,"h":0.04,"l":"c"},{"g":2,"t":"Leaf","c":"CK","v":0.7,"h":0.8,"l":"b"},{"g":2,"t":"Leaf","c":"6h","v":0.95,"h":1.1,"l":"a"},{"g":2,"t":"Leaf","c":"24h","v":0.18,"h":0.22,"l":"c"},
{"g":3,"t":"Root","c":"CK","v":1,"h":1.12,"l":"a","m":1.5},{"g":3,"t":"Root","c":"6h","v":0.36,"h":0.38,"l":"c"},{"g":3,"t":"Root","c":"24h","v":0.7,"h":0.75,"l":"b"},{"g":3,"t":"Stem","c":"CK","v":1,"h":1.14,"l":"a"},{"g":3,"t":"Stem","c":"6h","v":0.4,"h":0.45,"l":"b"},{"g":3,"t":"Stem","c":"24h","v":0.16,"h":0.19,"l":"c"},{"g":3,"t":"Leaf","c":"CK","v":1,"h":1.14,"l":"a"},{"g":3,"t":"Leaf","c":"6h","v":0.53,"h":0.62,"l":"b"},{"g":3,"t":"Leaf","c":"24h","v":0.2,"h":0.23,"l":"c"},
{"g":4,"t":"Root","c":"CK","v":1,"h":1.2,"l":"b","m":30},{"g":4,"t":"Root","c":"6h","v":0.2,"h":0.3,"l":"c"},{"g":4,"t":"Root","c":"24h","v":2.3,"h":2.7,"l":"a"},{"g":4,"t":"Stem","c":"CK","v":1,"h":1.3,"l":"b"},{"g":4,"t":"Stem","c":"6h","v":0.2,"h":0.3,"l":"c"},{"g":4,"t":"Stem","c":"24h","v":6.7,"h":7,"l":"a"},{"g":4,"t":"Leaf","c":"CK","v":1,"h":1.3,"l":"b"},{"g":4,"t":"Leaf","c":"6h","v":1.15,"h":1.5,"l":"b"},{"g":4,"t":"Leaf","c":"24h","v":21,"h":21.2,"l":"a"},
{"g":5,"t":"Root","c":"CK","v":1,"h":1.3,"l":"b","m":30},{"g":5,"t":"Root","c":"6h","v":24,"h":24.2,"l":"a"},{"g":5,"t":"Root","c":"24h","v":1.2,"h":1.6,"l":"b"},{"g":5,"t":"Stem","c":"CK","v":1,"h":1.2,"l":"a"},{"g":5,"t":"Stem","c":"6h","v":0.4,"h":0.5,"l":"b"},{"g":5,"t":"Stem","c":"24h","v":0.2,"h":0.3,"l":"b"},{"g":5,"t":"Leaf","c":"CK","v":1.9,"h":2.2,"l":"a"},{"g":5,"t":"Leaf","c":"6h","v":0.4,"h":0.5,"l":"b"},{"g":5,"t":"Leaf","c":"24h","v":0.4,"h":0.5,"l":"b"},
{"g":6,"t":"Root","c":"CK","v":1,"h":1.06,"l":"a","m":2},{"g":6,"t":"Root","c":"6h","v":0.95,"h":1.01,"l":"a"},{"g":6,"t":"Root","c":"24h","v":1.03,"h":1.05,"l":"a"},{"g":6,"t":"Stem","c":"CK","v":1.02,"h":1.14,"l":"a"},{"g":6,"t":"Stem","c":"6h","v":1.02,"h":1.14,"l":"a"},{"g":6,"t":"Stem","c":"24h","v":1.02,"h":1.14,"l":"a"},{"g":6,"t":"Leaf","c":"CK","v":1,"h":1.1,"l":"a"},{"g":6,"t":"Leaf","c":"6h","v":1.03,"h":1.06,"l":"a"},{"g":6,"t":"Leaf","c":"24h","v":1.06,"h":1.1,"l":"a"},
{"g":8,"t":"Root","c":"CK","v":1,"h":1.3,"l":"c","m":20},{"g":8,"t":"Root","c":"6h","v":5.2,"h":5.6,"l":"a"},{"g":8,"t":"Root","c":"24h","v":2.6,"h":3.2,"l":"b"},{"g":8,"t":"Stem","c":"CK","v":1,"h":1.3,"l":"b"},{"g":8,"t":"Stem","c":"6h","v":4.5,"h":5,"l":"a"},{"g":8,"t":"Stem","c":"24h","v":0.1,"h":0.13,"l":"c"},{"g":8,"t":"Leaf","c":"CK","v":1,"h":1.3,"l":"b"},{"g":8,"t":"Leaf","c":"6h","v":0.65,"h":0.8,"l":"b"},{"g":8,"t":"Leaf","c":"24h","v":14.2,"h":15,"l":"a"},
{"g":9,"t":"Root","c":"CK","v":1,"h":1.3,"l":"b","m":50},{"g":9,"t":"Root","c":"6h","v":0.4,"h":0.5,"l":"c"},{"g":9,"t":"Root","c":"24h","v":1.6,"h":1.9,"l":"a"},{"g":9,"t":"Stem","c":"CK","v":1,"h":1.3,"l":"a"},{"g":9,"t":"Stem","c":"6h","v":0.3,"h":0.4,"l":"b"},{"g":9,"t":"Stem","c":"24h","v":0.3,"h":0.4,"l":"b"},{"g":9,"t":"Leaf","c":"CK","v":1,"h":1.3,"l":"b"},{"g":9,"t":"Leaf","c":"6h","v":36,"h":36.5,"l":"a"},{"g":9,"t":"Leaf","c":"24h","v":1.6,"h":2,"l":"b"},
{"g":10,"t":"Root","c":"CK","v":1,"h":1.1,"l":"a","m":3},{"g":10,"t":"Root","c":"6h","v":0.75,"h":0.8,"l":"ab"},{"g":10,"t":"Root","c":"24h","v":0.5,"h":0.54,"l":"b"},{"g":10,"t":"Stem","c":"CK","v":1,"h":1.1,"l":"b"},{"g":10,"t":"Stem","c":"6h","v":1.4,"h":1.55,"l":"a"},{"g":10,"t":"Stem","c":"24h","v":0.8,"h":0.95,"l":"b"},{"g":10,"t":"Leaf","c":"CK","v":1,"h":1.1,"l":"b"},{"g":10,"t":"Leaf","c":"6h","v":1.25,"h":1.35,"l":"ab"},{"g":10,"t":"Leaf","c":"24h","v":1.55,"h":1.62,"l":"a"},
{"g":11,"t":"Root","c":"CK","v":1,"h":1.1,"l":"b","m":8},{"g":11,"t":"Root","c":"6h","v":0.05,"h":0.06,"l":"c"},{"g":11,"t":"Root","c":"24h","v":4,"h":4.2,"l":"a"},{"g":11,"t":"Stem","c":"CK","v":1,"h":1.1,"l":"a"},{"g":11,"t":"Stem","c":"6h","v":0.05,"h":0.06,"l":"b"},{"g":11,"t":"Stem","c":"24h","v":0.05,"h":0.06,"l":"b"},{"g":11,"t":"Leaf","c":"CK","v":1,"h":1.15,"l":"b"},{"g":11,"t":"Leaf","c":"6h","v":1.3,"h":1.35,"l":"b"},{"g":11,"t":"Leaf","c":"24h","v":5.6,"h":6.1,"l":"a"},
{"g":12,"t":"Root","c":"CK","v":1,"h":1.1,"l":"b","m":10},{"g":12,"t":"Root","c":"6h","v":2,"h":2.3,"l":"a"},{"g":12,"t":"Root","c":"24h","v":1.3,"h":1.5,"l":"b"},{"g":12,"t":"Stem","c":"CK","v":1,"h":1.2,"l":"c"},{"g":12,"t":"Stem","c":"6h","v":4.7,"h":4.9,"l":"b"},{"g":12,"t":"Stem","c":"24h","v":6.6,"h":7.2,"l":"a"},{"g":12,"t":"Leaf","c":"CK","v":1,"h":1.1,"l":"c"},{"g":12,"t":"Leaf","c":"6h","v":5.2,"h":5.3,"l":"a"},{"g":12,"t":"Leaf","c":"24h","v":4.7,"h":4.8,"l":"b"},
{"g":13,"t":"Root","c":"CK","v":1,"h":1.3,"l":"b","m":75},{"g":13,"t":"Root","c":"6h","v":0.5,"h":0.6,"l":"c"},{"g":13,"t":"Root","c":"24h","v":3.9,"h":4.3,"l":"a"},{"g":13,"t":"Stem","c":"CK","v":1,"h":1.3,"l":"b"},{"g":13,"t":"Stem","c":"6h","v":2,"h":3,"l":"a"},{"g":13,"t":"Stem","c":"24h","v":0.5,"h":0.6,"l":"c"},{"g":13,"t":"Leaf","c":"CK","v":1,"h":1.3,"l":"c"},{"g":13,"t":"Leaf","c":"6h","v":54,"h":55,"l":"a"},{"g":13,"t":"Leaf","c":"24h","v":9.7,"h":11,"l":"b"},
{"g":14,"t":"Root","c":"CK","v":1,"h":1.05,"l":"b","m":4},{"g":14,"t":"Root","c":"6h","v":0.03,"h":0.04,"l":"c"},{"g":14,"t":"Root","c":"24h","v":1.65,"h":2.1,"l":"a"},{"g":14,"t":"Stem","c":"CK","v":1,"h":1.15,"l":"b"},{"g":14,"t":"Stem","c":"6h","v":3,"h":3.05,"l":"a"},{"g":14,"t":"Stem","c":"24h","v":0.08,"h":0.1,"l":"c"},{"g":14,"t":"Leaf","c":"CK","v":0.7,"h":0.9,"l":"a"},{"g":14,"t":"Leaf","c":"6h","v":0.05,"h":0.06,"l":"b"},{"g":14,"t":"Leaf","c":"24h","v":1.03,"h":1.08,"l":"a"},
{"g":15,"t":"Root","c":"CK","v":1,"h":1.2,"l":"b","m":150},{"g":15,"t":"Root","c":"6h","v":1,"h":1.2,"l":"b"},{"g":15,"t":"Root","c":"24h","v":10,"h":13,"l":"a"},{"g":15,"t":"Stem","c":"CK","v":1,"h":1.2,"l":"b"},{"g":15,"t":"Stem","c":"6h","v":52,"h":53,"l":"a"},{"g":15,"t":"Stem","c":"24h","v":0.5,"h":0.6,"l":"b"},{"g":15,"t":"Leaf","c":"CK","v":104,"h":118,"l":"a"},{"g":15,"t":"Leaf","c":"6h","v":37,"h":45,"l":"b"},{"g":15,"t":"Leaf","c":"24h","v":0.5,"h":0.6,"l":"c"}
],
"flood":[
{"g":1,"t":"Root","c":"CK","v":0.8,"h":1,"l":"b","m":12},{"g":1,"t":"Root","c":"6h","v":0.4,"h":0.6,"l":"b"},{"g":1,"t":"Root","c":"24h","v":8.9,"h":9.1,"l":"a"},{"g":1,"t":"Stem","c":"CK","v":0.95,"h":1.1,"l":"c"},{"g":1,"t":"Stem","c":"6h","v":1.55,"h":1.7,"l":"b"},{"g":1,"t":"Stem","c":"24h","v":5.2,"h":5.8,"l":"a"},{"g":1,"t":"Leaf","c":"CK","v":0.95,"h":1.1,"l":"c"},{"g":1,"t":"Leaf","c":"6h","v":2.55,"h":3.1,"l":"b"},{"g":1,"t":"Leaf","c":"24h","v":3.9,"h":4.1,"l":"a"},
{"g":2,"t":"Root","c":"CK","v":1,"h":1.4,"l":"c","m":30},{"g":2,"t":"Root","c":"6h","v":2.5,"h":3.2,"l":"b"},{"g":2,"t":"Root","c":"24h","v":8.3,"h":8.6,"l":"a"},{"g":2,"t":"Stem","c":"CK","v":1,"h":1.8,"l":"b"},{"g":2,"t":"Stem","c":"6h","v":23.6,"h":24,"l":"a"},{"g":2,"t":"Stem","c":"24h","v":0.2,"h":0.3,"l":"c"},{"g":2,"t":"Leaf","c":"CK","v":1,"h":1.3,"l":"a"},{"g":2,"t":"Leaf","c":"6h","v":0.2,"h":0.3,"l":"b"},{"g":2,"t":"Leaf","c":"24h","v":1.35,"h":1.8,"l":"a"},
{"g":3,"t":"Root","c":"CK","v":1,"h":1.5,"l":"b","m":30},{"g":3,"t":"Root","c":"6h","v":0.2,"h":0.3,"l":"c"},{"g":3,"t":"Root","c":"24h","v":22.6,"h":23,"l":"a"},{"g":3,"t":"Stem","c":"CK","v":1,"h":1.3,"l":"b"},{"g":3,"t":"Stem","c":"6h","v":0.8,"h":1.2,"l":"b"},{"g":3,"t":"Stem","c":"24h","v":2.3,"h":2.6,"l":"a"},{"g":3,"t":"Leaf","c":"CK","v":1,"h":1.3,"l":"b"},{"g":3,"t":"Leaf","c":"6h","v":1,"h":1.2,"l":"b"},{"g":3,"t":"Leaf","c":"24h","v":9.3,"h":9.8,"l":"a"},
{"g":4,"t":"Root","c":"CK","v":1,"h":1.3,"l":"b","m":80},{"g":4,"t":"Root","c":"6h","v":0.5,"h":0.7,"l":"b"},{"g":4,"t":"Root","c":"24h","v":21.7,"h":22.5,"l":"a"},{"g":4,"t":"Stem","c":"CK","v":1,"h":1.6,"l":"c"},{"g":4,"t":"Stem","c":"6h","v":2.6,"h":3.2,"l":"b"},{"g":4,"t":"Stem","c":"24h","v":11.4,"h":13,"l":"a"},{"g":4,"t":"Leaf","c":"CK","v":1,"h":1.6,"l":"b"},{"g":4,"t":"Leaf","c":"6h","v":2.6,"h":3.4,"l":"b"},{"g":4,"t":"Leaf","c":"24h","v":57,"h":59,"l":"a"},
{"g":5,"t":"Root","c":"CK","v":1,"h":1.3,"l":"c","m":150},{"g":5,"t":"Root","c":"6h","v":34,"h":35,"l":"b"},{"g":5,"t":"Root","c":"24h","v":113,"h":122,"l":"a"},{"g":5,"t":"Stem","c":"CK","v":1,"h":1.3,"l":"b"},{"g":5,"t":"Stem","c":"6h","v":0.5,"h":0.6,"l":"b"},{"g":5,"t":"Stem","c":"24h","v":56,"h":58,"l":"a"},{"g":5,"t":"Leaf","c":"CK","v":3,"h":4,"l":"b"},{"g":5,"t":"Leaf","c":"6h","v":0.5,"h":0.6,"l":"c"},{"g":5,"t":"Leaf","c":"24h","v":12.6,"h":14,"l":"a"},
{"g":6,"t":"Root","c":"CK","v":1,"h":1.06,"l":"a","m":1.8},{"g":6,"t":"Root","c":"6h","v":0.96,"h":1.02,"l":"a"},{"g":6,"t":"Root","c":"24h","v":1.1,"h":1.25,"l":"a"},{"g":6,"t":"Stem","c":"CK","v":1,"h":1.1,"l":"a"},{"g":6,"t":"Stem","c":"6h","v":1,"h":1.1,"l":"a"},{"g":6,"t":"Stem","c":"24h","v":1.02,"h":1.1,"l":"a"},{"g":6,"t":"Leaf","c":"CK","v":1,"h":1.1,"l":"a"},{"g":6,"t":"Leaf","c":"6h","v":1,"h":1.06,"l":"a"},{"g":6,"t":"Leaf","c":"24h","v":1.05,"h":1.09,"l":"a"},
{"g":8,"t":"Root","c":"CK","v":1,"h":1.2,"l":"c","m":12},{"g":8,"t":"Root","c":"6h","v":2.2,"h":2.35,"l":"b"},{"g":8,"t":"Root","c":"24h","v":9,"h":9.1,"l":"a"},{"g":8,"t":"Stem","c":"CK","v":1.15,"h":1.4,"l":"b"},{"g":8,"t":"Stem","c":"6h","v":4.4,"h":4.5,"l":"a"},{"g":8,"t":"Stem","c":"24h","v":0.8,"h":1,"l":"b"},{"g":8,"t":"Leaf","c":"CK","v":1,"h":1.2,"l":"b"},{"g":8,"t":"Leaf","c":"6h","v":1,"h":1.2,"l":"b"},{"g":8,"t":"Leaf","c":"24h","v":8,"h":8.3,"l":"a"},
{"g":9,"t":"Root","c":"CK","v":1,"h":1.2,"l":"b","m":75},{"g":9,"t":"Root","c":"6h","v":0.5,"h":0.6,"l":"b"},{"g":9,"t":"Root","c":"24h","v":52,"h":53,"l":"a"},{"g":9,"t":"Stem","c":"CK","v":1,"h":1.2,"l":"b"},{"g":9,"t":"Stem","c":"6h","v":0.5,"h":0.6,"l":"c"},{"g":9,"t":"Stem","c":"24h","v":2.4,"h":3,"l":"a"},{"g":9,"t":"Leaf","c":"CK","v":1,"h":1.3,"l":"c"},{"g":9,"t":"Leaf","c":"6h","v":5.8,"h":6.5,"l":"b"},{"g":9,"t":"Leaf","c":"24h","v":14.5,"h":15,"l":"a"},
{"g":10,"t":"Root","c":"CK","v":1,"h":1.3,"l":"b","m":40},{"g":10,"t":"Root","c":"6h","v":0.25,"h":0.3,"l":"c"},{"g":10,"t":"Root","c":"24h","v":30,"h":30.5,"l":"a"},{"g":10,"t":"Stem","c":"CK","v":1,"h":1.3,"l":"a"},{"g":10,"t":"Stem","c":"6h","v":0.8,"h":1,"l":"a"},{"g":10,"t":"Stem","c":"24h","v":1.3,"h":1.7,"l":"a"},{"g":10,"t":"Leaf","c":"CK","v":1,"h":1.3,"l":"b"},{"g":10,"t":"Leaf","c":"6h","v":1.3,"h":1.6,"l":"b"},{"g":10,"t":"Leaf","c":"24h","v":10.8,"h":11.3,"l":"a"},
{"g":11,"t":"Root","c":"CK","v":1,"h":1.3,"l":"b","m":30},{"g":11,"t":"Root","c":"6h","v":0.2,"h":0.3,"l":"c"},{"g":11,"t":"Root","c":"24h","v":21.7,"h":22.2,"l":"a"},{"g":11,"t":"Stem","c":"CK","v":1,"h":1.3,"l":"b"},{"g":11,"t":"Stem","c":"6h","v":0.2,"h":0.3,"l":"c"},{"g":11,"t":"Stem","c":"24h","v":2.5,"h":2.6,"l":"a"},{"g":11,"t":"Leaf","c":"CK","v":1,"h":1.2,"l":"c"},{"g":11,"t":"Leaf","c":"6h","v":1.35,"h":1.7,"l":"b"},{"g":11,"t":"Leaf","c":"24h","v":11.2,"h":12,"l":"a"},
{"g":12,"t":"Root","c":"CK","v":1,"h":1.2,"l":"b","m":50},{"g":12,"t":"Root","c":"6h","v":1,"h":1.2,"l":"b"},{"g":12,"t":"Root","c":"24h","v":38,"h":42,"l":"a"},{"g":12,"t":"Stem","c":"CK","v":1,"h":1.2,"l":"b"},{"g":12,"t":"Stem","c":"6h","v":1,"h":1.2,"l":"b"},{"g":12,"t":"Stem","c":"24h","v":10,"h":11,"l":"a"},{"g":12,"t":"Leaf","c":"CK","v":1,"h":1.4,"l":"b"},{"g":12,"t":"Leaf","c":"6h","v":1.6,"h":2.2,"l":"b"},{"g":12,"t":"Leaf","c":"24h","v":20,"h":20.5,"l":"a"},
{"g":13,"t":"Root","c":"CK","v":0.95,"h":1.3,"l":"b","m":12},{"g":13,"t":"Root","c":"6h","v":0.55,"h":0.8,"l":"b"},{"g":13,"t":"Root","c":"24h","v":8.5,"h":8.8,"l":"a"},{"g":13,"t":"Stem","c":"CK","v":0.95,"h":1.2,"l":"c"},{"g":13,"t":"Stem","c":"6h","v":1.3,"h":1.5,"l":"b"},{"g":13,"t":"Stem","c":"24h","v":4.6,"h":4.8,"l":"a"},{"g":13,"t":"Leaf","c":"CK","v":0.95,"h":1.3,"l":"c"},{"g":13,"t":"Leaf","c":"6h","v":2.7,"h":3,"l":"b"},{"g":13,"t":"Leaf","c":"24h","v":3.7,"h":3.9,"l":"a"},
{"g":14,"t":"Root","c":"CK","v":1,"h":1.3,"l":"b","m":150},{"g":14,"t":"Root","c":"6h","v":1,"h":1.3,"l":"b"},{"g":14,"t":"Root","c":"24h","v":114,"h":117,"l":"a"},{"g":14,"t":"Stem","c":"CK","v":1,"h":1.3,"l":"c"},{"g":14,"t":"Stem","c":"6h","v":11.6,"h":13,"l":"a"},{"g":14,"t":"Stem","c":"24h","v":6.8,"h":7.5,"l":"b"},{"g":14,"t":"Leaf","c":"CK","v":1,"h":1.3,"l":"c"},{"g":14,"t":"Leaf","c":"6h","v":2.9,"h":3.4,"l":"b"},{"g":14,"t":"Leaf","c":"24h","v":14.5,"h":15.5,"l":"a"},
{"g":15,"t":"Root","c":"CK","v":1.05,"h":1.1,"l":"b","m":5},{"g":15,"t":"Root","c":"6h","v":0.15,"h":0.2,"l":"c"},{"g":15,"t":"Root","c":"24h","v":3.9,"h":4,"l":"a"},{"g":15,"t":"Stem","c":"CK","v":0.1,"h":0.13,"l":"a"},{"g":15,"t":"Stem","c":"6h","v":0.05,"h":0.06,"l":"a"},{"g":15,"t":"Stem","c":"24h","v":0.05,"h":0.06,"l":"a"},{"g":15,"t":"Leaf","c":"CK","v":0.5,"h":0.6,"l":"b"},{"g":15,"t":"Leaf","c":"6h","v":0.1,"h":0.13,"l":"c"},{"g":15,"t":"Leaf","c":"24h","v":0.85,"h":0.9,"l":"a"}
],
"peg":[
{"g":1,"t":"Root","c":"CK","v":1,"h":1.15,"l":"a","m":2},{"g":1,"t":"Root","c":"6h","v":0.47,"h":0.5,"l":"b"},{"g":1,"t":"Root","c":"24h","v":0.58,"h":0.6,"l":"b"},{"g":1,"t":"Stem","c":"CK","v":1,"h":1.08,"l":"a"},{"g":1,"t":"Stem","c":"6h","v":0.87,"h":0.95,"l":"a"},{"g":1,"t":"Stem","c":"24h","v":0.15,"h":0.18,"l":"b"},{"g":1,"t":"Leaf","c":"CK","v":1,"h":1.1,"l":"b"},{"g":1,"t":"Leaf","c":"6h","v":0.65,"h":0.67,"l":"c"},{"g":1,"t":"Leaf","c":"24h","v":1.3,"h":1.34,"l":"a"},
{"g":2,"t":"Root","c":"CK","v":1.05,"h":1.6,"l":"b","m":5},{"g":2,"t":"Root","c":"6h","v":3.6,"h":3.7,"l":"a"},{"g":2,"t":"Root","c":"24h","v":0.03,"h":0.04,"l":"c"},{"g":2,"t":"Stem","c":"CK","v":0.8,"h":0.95,"l":"a"},{"g":2,"t":"Stem","c":"6h","v":0.06,"h":0.08,"l":"b"},{"g":2,"t":"Stem","c":"24h","v":0.03,"h":0.04,"l":"b"},{"g":2,"t":"Leaf","c":"CK","v":1,"h":1.05,"l":"a"},{"g":2,"t":"Leaf","c":"6h","v":0.03,"h":0.04,"l":"c"},{"g":2,"t":"Leaf","c":"24h","v":0.22,"h":0.26,"l":"b"},
{"g":3,"t":"Root","c":"CK","v":1,"h":1.15,"l":"a","m":1.6},{"g":3,"t":"Root","c":"6h","v":0.67,"h":0.8,"l":"a"},{"g":3,"t":"Root","c":"24h","v":0.75,"h":0.88,"l":"a"},{"g":3,"t":"Stem","c":"CK","v":1,"h":1.15,"l":"a"},{"g":3,"t":"Stem","c":"6h","v":0.36,"h":0.42,"l":"b"},{"g":3,"t":"Stem","c":"24h","v":0.07,"h":0.09,"l":"c"},{"g":3,"t":"Leaf","c":"CK","v":1,"h":1.08,"l":"a"},{"g":3,"t":"Leaf","c":"6h","v":1.06,"h":1.15,"l":"a"},{"g":3,"t":"Leaf","c":"24h","v":0.72,"h":0.9,"l":"b"},
{"g":4,"t":"Root","c":"CK","v":1,"h":1.2,"l":"a","m":20},{"g":4,"t":"Root","c":"6h","v":1.3,"h":1.6,"l":"a"},{"g":4,"t":"Root","c":"24h","v":0.9,"h":1.1,"l":"a"},{"g":4,"t":"Stem","c":"CK","v":1,"h":1.2,"l":"a"},{"g":4,"t":"Stem","c":"6h","v":1.55,"h":1.7,"l":"a"},{"g":4,"t":"Stem","c":"24h","v":1,"h":1.2,"l":"a"},{"g":4,"t":"Leaf","c":"CK","v":1,"h":1.2,"l":"b"},{"g":4,"t":"Leaf","c":"6h","v":1.3,"h":1.5,"l":"b"},{"g":4,"t":"Leaf","c":"24h","v":14.2,"h":14.5,"l":"a"},
{"g":5,"t":"Root","c":"CK","v":1,"h":1.2,"l":"c","m":20},{"g":5,"t":"Root","c":"6h","v":14,"h":14.4,"l":"a"},{"g":5,"t":"Root","c":"24h","v":12.6,"h":12.9,"l":"b"},{"g":5,"t":"Stem","c":"CK","v":1,"h":1.2,"l":"a"},{"g":5,"t":"Stem","c":"6h","v":1,"h":1.3,"l":"a"},{"g":5,"t":"Stem","c":"24h","v":0.65,"h":0.8,"l":"a"},{"g":5,"t":"Leaf","c":"CK","v":1.9,"h":2.1,"l":"a"},{"g":5,"t":"Leaf","c":"6h","v":0.25,"h":0.3,"l":"b"},{"g":5,"t":"Leaf","c":"24h","v":1.15,"h":1.7,"l":"a"},
{"g":6,"t":"Root","c":"CK","v":1,"h":1.05,"l":"a","m":2},{"g":6,"t":"Root","c":"6h","v":0.97,"h":1.05,"l":"a"},{"g":6,"t":"Root","c":"24h","v":1,"h":1.09,"l":"a"},{"g":6,"t":"Stem","c":"CK","v":1.02,"h":1.18,"l":"a"},{"g":6,"t":"Stem","c":"6h","v":1,"h":1.12,"l":"a"},{"g":6,"t":"Stem","c":"24h","v":0.97,"h":1.18,"l":"a"},{"g":6,"t":"Leaf","c":"CK","v":1,"h":1.1,"l":"a"},{"g":6,"t":"Leaf","c":"6h","v":0.97,"h":1.04,"l":"a"},{"g":6,"t":"Leaf","c":"24h","v":1,"h":1.03,"l":"a"},
{"g":8,"t":"Root","c":"CK","v":1,"h":1.1,"l":"a","m":8},{"g":8,"t":"Root","c":"6h","v":1.4,"h":1.5,"l":"a"},{"g":8,"t":"Root","c":"24h","v":0.2,"h":0.25,"l":"b"},{"g":8,"t":"Stem","c":"CK","v":1,"h":1.2,"l":"a"},{"g":8,"t":"Stem","c":"6h","v":0.15,"h":0.2,"l":"b"},{"g":8,"t":"Stem","c":"24h","v":0.4,"h":0.5,"l":"b"},{"g":8,"t":"Leaf","c":"CK","v":1,"h":1.15,"l":"b"},{"g":8,"t":"Leaf","c":"6h","v":0.15,"h":0.2,"l":"c"},{"g":8,"t":"Leaf","c":"24h","v":6,"h":6.1,"l":"a"},
{"g":9,"t":"Root","c":"CK","v":1,"h":1.15,"l":"a","m":2.2},{"g":9,"t":"Root","c":"6h","v":1.3,"h":1.45,"l":"a"},{"g":9,"t":"Root","c":"24h","v":0.97,"h":1.15,"l":"a"},{"g":9,"t":"Stem","c":"CK","v":1,"h":1.05,"l":"a"},{"g":9,"t":"Stem","c":"6h","v":0.55,"h":0.6,"l":"b"},{"g":9,"t":"Stem","c":"24h","v":0.02,"h":0.03,"l":"c"},{"g":9,"t":"Leaf","c":"CK","v":1,"h":1.08,"l":"b"},{"g":9,"t":"Leaf","c":"6h","v":0.97,"h":1.03,"l":"b"},{"g":9,"t":"Leaf","c":"24h","v":1.54,"h":1.72,"l":"a"},
{"g":10,"t":"Root","c":"CK","v":1,"h":1.2,"l":"a","m":1.8},{"g":10,"t":"Root","c":"6h","v":0.2,"h":0.23,"l":"c"},{"g":10,"t":"Root","c":"24h","v":0.6,"h":0.64,"l":"b"},{"g":10,"t":"Stem","c":"CK","v":1,"h":1.18,"l":"a"},{"g":10,"t":"Stem","c":"6h","v":0.7,"h":0.85,"l":"a"},{"g":10,"t":"Stem","c":"24h","v":0.06,"h":0.08,"l":"b"},{"g":10,"t":"Leaf","c":"CK","v":1,"h":1.15,"l":"a"},{"g":10,"t":"Leaf","c":"6h","v":0.48,"h":0.55,"l":"b"},{"g":10,"t":"Leaf","c":"24h","v":1.1,"h":1.15,"l":"a"},
{"g":11,"t":"Root","c":"CK","v":1,"h":1.18,"l":"a","m":1.5},{"g":11,"t":"Root","c":"6h","v":0.03,"h":0.04,"l":"b"},{"g":11,"t":"Root","c":"24h","v":0.03,"h":0.04,"l":"b"},{"g":11,"t":"Stem","c":"CK","v":1,"h":1.15,"l":"a"},{"g":11,"t":"Stem","c":"6h","v":0.1,"h":0.14,"l":"b"},{"g":11,"t":"Stem","c":"24h","v":0.01,"h":0.02,"l":"c"},{"g":11,"t":"Leaf","c":"CK","v":1,"h":1.2,"l":"a"},{"g":11,"t":"Leaf","c":"6h","v":0.24,"h":0.36,"l":"c"},{"g":11,"t":"Leaf","c":"24h","v":0.53,"h":0.56,"l":"b"},
{"g":12,"t":"Root","c":"CK","v":1,"h":1.3,"l":"a","m":4},{"g":12,"t":"Root","c":"6h","v":0.5,"h":0.7,"l":"b"},{"g":12,"t":"Root","c":"24h","v":1,"h":1.05,"l":"a"},{"g":12,"t":"Stem","c":"CK","v":1,"h":1.3,"l":"a"},{"g":12,"t":"Stem","c":"6h","v":0.7,"h":0.75,"l":"a"},{"g":12,"t":"Stem","c":"24h","v":0.33,"h":0.42,"l":"b"},{"g":12,"t":"Leaf","c":"CK","v":1,"h":1.15,"l":"b"},{"g":12,"t":"Leaf","c":"6h","v":0.55,"h":0.65,"l":"c"},{"g":12,"t":"Leaf","c":"24h","v":2.85,"h":3.2,"l":"a"},
{"g":13,"t":"Root","c":"CK","v":1,"h":1.2,"l":"a","m":1.8},{"g":13,"t":"Root","c":"6h","v":0.46,"h":0.54,"l":"b"},{"g":13,"t":"Root","c":"24h","v":0.58,"h":0.65,"l":"b"},{"g":13,"t":"Stem","c":"CK","v":1,"h":1.18,"l":"a"},{"g":13,"t":"Stem","c":"6h","v":0.87,"h":0.94,"l":"a"},{"g":13,"t":"Stem","c":"24h","v":0.14,"h":0.2,"l":"b"},{"g":13,"t":"Leaf","c":"CK","v":1,"h":1.18,"l":"b"},{"g":13,"t":"Leaf","c":"6h","v":0.63,"h":0.66,"l":"c"},{"g":13,"t":"Leaf","c":"24h","v":1.3,"h":1.34,"l":"a"},
{"g":14,"t":"Root","c":"CK","v":1,"h":1.02,"l":"a","m":2.5},{"g":14,"t":"Root","c":"6h","v":0.08,"h":0.12,"l":"c"},{"g":14,"t":"Root","c":"24h","v":0.4,"h":0.6,"l":"b"},{"g":14,"t":"Stem","c":"CK","v":1,"h":1.25,"l":"a"},{"g":14,"t":"Stem","c":"6h","v":0.13,"h":0.2,"l":"b"},{"g":14,"t":"Stem","c":"24h","v":0.08,"h":0.11,"l":"b"},{"g":14,"t":"Leaf","c":"CK","v":0.68,"h":1.05,"l":"b"},{"g":14,"t":"Leaf","c":"6h","v":0.3,"h":0.5,"l":"b"},{"g":14,"t":"Leaf","c":"24h","v":1.75,"h":1.85,"l":"a"},
{"g":15,"t":"Root","c":"CK","v":1,"h":1.3,"l":"b","m":12},{"g":15,"t":"Root","c":"6h","v":1.55,"h":1.8,"l":"a"},{"g":15,"t":"Root","c":"24h","v":0.55,"h":0.7,"l":"c"},{"g":15,"t":"Stem","c":"CK","v":1,"h":1.1,"l":"a"},{"g":15,"t":"Stem","c":"6h","v":0.4,"h":0.7,"l":"b"},{"g":15,"t":"Stem","c":"24h","v":0.08,"h":0.1,"l":"c"},{"g":15,"t":"Leaf","c":"CK","v":1,"h":1.5,"l":"b"},{"g":15,"t":"Leaf","c":"6h","v":0.15,"h":0.2,"l":"c"},{"g":15,"t":"Leaf","c":"24h","v":8.7,"h":8.8,"l":"a"}
],
"treeTop":[{"p":0.5,"p2":0.5,"q":0,"q2":57},{"p":1.5,"p2":1.5,"q":0,"q2":30},{"p":2.5,"p2":2.5,"q":0,"q2":15},{"p":3.5,"p2":3.5,"q":0,"q2":15},{"p":2.5,"p2":3.5,"q":15,"q2":15},{"p":3,"p2":3,"q":15,"q2":30},{"p":1.5,"p2":3,"q":30,"q2":30},{"p":2.25,"p2":2.25,"q":30,"q2":43},{"p":4.5,"p2":4.5,"q":0,"q2":30},{"p":5.5,"p2":5.5,"q":0,"q2":30},{"p":4.5,"p2":5.5,"q":30,"q2":30},{"p":5,"p2":5,"q":30,"q2":43},{"p":2.25,"p2":5,"q":43,"q2":43},{"p":3.6,"p2":3.6,"q":43,"q2":57},{"p":0.5,"p2":3.6,"q":57,"q2":57},{"p":2.05,"p2":2.05,"q":57,"q2":73},{"p":7.5,"p2":7.5,"q":0,"q2":43},{"p":8.5,"p2":8.5,"q":0,"q2":43},{"p":7.5,"p2":8.5,"q":43,"q2":43},{"p":8,"p2":8,"q":43,"q2":57},{"p":6.5,"p2":6.5,"q":0,"q2":57},{"p":6.5,"p2":8,"q":57,"q2":57},{"p":7.25,"p2":7.25,"q":57,"q2":73},{"p":2.05,"p2":7.25,"q":73,"q2":73},{"p":4.65,"p2":4.65,"q":73,"q2":85},{"p":9.5,"p2":9.5,"q":0,"q2":57},{"p":10.5,"p2":10.5,"q":0,"q2":43},{"p":11.5,"p2":11.5,"q":0,"q2":43},{"p":10.5,"p2":11.5,"q":43,"q2":43},{"p":11,"p2":11,"q":43,"q2":57},{"p":9.5,"p2":11,"q":57,"q2":57},{"p":10.25,"p2":10.25,"q":57,"q2":73},{"p":12.5,"p2":12.5,"q":0,"q2":57},{"p":13.5,"p2":13.5,"q":0,"q2":57},{"p":12.5,"p2":13.5,"q":57,"q2":57},{"p":13,"p2":13,"q":57,"q2":73},{"p":10.25,"p2":13,"q":73,"q2":73},{"p":11.6,"p2":11.6,"q":73,"q2":85},{"p":4.65,"p2":11.6,"q":85,"q2":85}],
"treeLeft":[{"p":0.5,"p2":0.5,"q":0,"q2":53},{"p":1.5,"p2":1.5,"q":0,"q2":28},{"p":2.5,"p2":2.5,"q":0,"q2":13},{"p":3.5,"p2":3.5,"q":0,"q2":13},{"p":2.5,"p2":3.5,"q":13,"q2":13},{"p":3,"p2":3,"q":13,"q2":28},{"p":1.5,"p2":3,"q":28,"q2":28},{"p":2.25,"p2":2.25,"q":28,"q2":40},{"p":4.5,"p2":4.5,"q":0,"q2":28},{"p":5.5,"p2":5.5,"q":0,"q2":28},{"p":4.5,"p2":5.5,"q":28,"q2":28},{"p":5,"p2":5,"q":28,"q2":40},{"p":2.25,"p2":5,"q":40,"q2":40},{"p":3.6,"p2":3.6,"q":40,"q2":53},{"p":0.5,"p2":3.6,"q":53,"q2":53},{"p":2.05,"p2":2.05,"q":53,"q2":65},{"p":7.5,"p2":7.5,"q":0,"q2":40},{"p":8.5,"p2":8.5,"q":0,"q2":40},{"p":7.5,"p2":8.5,"q":40,"q2":40},{"p":8,"p2":8,"q":40,"q2":53},{"p":6.5,"p2":6.5,"q":0,"q2":53},{"p":6.5,"p2":8,"q":53,"q2":53},{"p":7.25,"p2":7.25,"q":53,"q2":65},{"p":2.05,"p2":7.25,"q":65,"q2":65},{"p":4.65,"p2":4.65,"q":65,"q2":80},{"p":9.5,"p2":9.5,"q":0,"q2":53},{"p":10.5,"p2":10.5,"q":0,"q2":40},{"p":11.5,"p2":11.5,"q":0,"q2":40},{"p":10.5,"p2":11.5,"q":40,"q2":40},{"p":11,"p2":11,"q":40,"q2":53},{"p":9.5,"p2":11,"q":53,"q2":53},{"p":10.25,"p2":10.25,"q":53,"q2":65},{"p":12.5,"p2":12.5,"q":0,"q2":53},{"p":13.5,"p2":13.5,"q":0,"q2":53},{"p":12.5,"p2":13.5,"q":53,"q2":53},{"p":13,"p2":13,"q":53,"q2":65},{"p":10.25,"p2":13,"q":65,"q2":65},{"p":11.6,"p2":11.6,"q":65,"q2":80},{"p":4.65,"p2":11.6,"q":80,"q2":80}],
"corr":[
{"a":9,"b":9,"r":1},{"a":14,"b":9,"r":0.8},{"a":3,"b":9,"r":0.81},{"a":10,"b":9,"r":0.81},{"a":8,"b":9,"r":0.67},{"a":12,"b":9,"r":0.78},{"a":5,"b":9,"r":0.3},{"a":4,"b":9,"r":0.25},{"a":11,"b":9,"r":0.44},{"a":15,"b":9,"r":0.2},{"a":1,"b":9,"r":0.6},{"a":13,"b":9,"r":0.6},{"a":2,"b":9,"r":0.1},{"a":6,"b":9,"r":0.12},
{"a":9,"b":14,"r":0.8},{"a":14,"b":14,"r":1},{"a":3,"b":14,"r":0.94},{"a":10,"b":14,"r":0.95},{"a":8,"b":14,"r":0.74},{"a":12,"b":14,"r":0.85},{"a":5,"b":14,"r":0.41},{"a":4,"b":14,"r":0.23},{"a":11,"b":14,"r":0.55},{"a":15,"b":14,"r":0.09},{"a":1,"b":14,"r":0.14},{"a":13,"b":14,"r":0.14},{"a":2,"b":14,"r":0.19},{"a":6,"b":14,"r":0.11},
{"a":9,"b":3,"r":0.81},{"a":14,"b":3,"r":0.94},{"a":3,"b":3,"r":1},{"a":10,"b":3,"r":0.97},{"a":8,"b":3,"r":0.8},{"a":12,"b":3,"r":0.89},{"a":5,"b":3,"r":0.37},{"a":4,"b":3,"r":0.45},{"a":11,"b":3,"r":0.62},{"a":15,"b":3,"r":0.08},{"a":1,"b":3,"r":0.14},{"a":13,"b":3,"r":0.14},{"a":2,"b":3,"r":0.15},{"a":6,"b":3,"r":0.14},
{"a":9,"b":10,"r":0.81},{"a":14,"b":10,"r":0.95},{"a":3,"b":10,"r":0.97},{"a":10,"b":10,"r":1},{"a":8,"b":10,"r":0.82},{"a":12,"b":10,"r":0.94},{"a":5,"b":10,"r":0.38},{"a":4,"b":10,"r":0.41},{"a":11,"b":10,"r":0.54},{"a":15,"b":10,"r":0.11},{"a":1,"b":10,"r":0.17},{"a":13,"b":10,"r":0.17},{"a":2,"b":10,"r":0.13},{"a":6,"b":10,"r":0.14},
{"a":9,"b":8,"r":0.67},{"a":14,"b":8,"r":0.74},{"a":3,"b":8,"r":0.8},{"a":10,"b":8,"r":0.82},{"a":8,"b":8,"r":1},{"a":12,"b":8,"r":0.82},{"a":5,"b":8,"r":0.36},{"a":4,"b":8,"r":0.66},{"a":11,"b":8,"r":0.52},{"a":15,"b":8,"r":0.05},{"a":1,"b":8,"r":0.15},{"a":13,"b":8,"r":0.15},{"a":2,"b":8,"r":0.05},{"a":6,"b":8,"r":0.15},
{"a":9,"b":12,"r":0.78},{"a":14,"b":12,"r":0.85},{"a":3,"b":12,"r":0.89},{"a":10,"b":12,"r":0.94},{"a":8,"b":12,"r":0.82},{"a":12,"b":12,"r":1},{"a":5,"b":12,"r":0.35},{"a":4,"b":12,"r":0.54},{"a":11,"b":12,"r":0.53},{"a":15,"b":12,"r":0.11},{"a":1,"b":12,"r":0.26},{"a":13,"b":12,"r":0.26},{"a":2,"b":12,"r":0.1},{"a":6,"b":12,"r":0.13},
{"a":9,"b":5,"r":0.3},{"a":14,"b":5,"r":0.41},{"a":3,"b":5,"r":0.37},{"a":10,"b":5,"r":0.38},{"a":8,"b":5,"r":0.36},{"a":12,"b":5,"r":0.35},{"a":5,"b":5,"r":1},{"a":4,"b":5,"r":0.04},{"a":11,"b":5,"r":0.19},{"a":15,"b":5,"r":0.06},{"a":1,"b":5,"r":0.03},{"a":13,"b":5,"r":0.04},{"a":2,"b":5,"r":0.01},{"a":6,"b":5,"r":0.06},
{"a":9,"b":4,"r":0.25},{"a":14,"b":4,"r":0.23},{"a":3,"b":4,"r":0.45},{"a":10,"b":4,"r":0.41},{"a":8,"b":4,"r":0.66},{"a":12,"b":4,"r":0.54},{"a":5,"b":4,"r":0.04},{"a":4,"b":4,"r":1},{"a":11,"b":4,"r":0.5},{"a":15,"b":4,"r":-0.03},{"a":1,"b":4,"r":0.08},{"a":13,"b":4,"r":0.08},{"a":2,"b":4,"r":-0.03},{"a":6,"b":4,"r":0.11},
{"a":9,"b":11,"r":0.44},{"a":14,"b":11,"r":0.55},{"a":3,"b":11,"r":0.62},{"a":10,"b":11,"r":0.54},{"a":8,"b":11,"r":0.52},{"a":12,"b":11,"r":0.53},{"a":5,"b":11,"r":0.19},{"a":4,"b":11,"r":0.5},{"a":11,"b":11,"r":1},{"a":15,"b":11,"r":0.02},{"a":1,"b":11,"r":0.18},{"a":13,"b":11,"r":0.18},{"a":2,"b":11,"r":-0.01},{"a":6,"b":11,"r":0.12},
{"a":9,"b":15,"r":0.2},{"a":14,"b":15,"r":0.09},{"a":3,"b":15,"r":0.08},{"a":10,"b":15,"r":0.11},{"a":8,"b":15,"r":0.05},{"a":12,"b":15,"r":0.11},{"a":5,"b":15,"r":0.06},{"a":4,"b":15,"r":-0.03},{"a":11,"b":15,"r":0.02},{"a":15,"b":15,"r":1},{"a":1,"b":15,"r":0.3},{"a":13,"b":15,"r":0.3},{"a":2,"b":15,"r":0.01},{"a":6,"b":15,"r":0.05},
{"a":9,"b":1,"r":0.6},{"a":14,"b":1,"r":0.14},{"a":3,"b":1,"r":0.14},{"a":10,"b":1,"r":0.17},{"a":8,"b":1,"r":0.15},{"a":12,"b":1,"r":0.26},{"a":5,"b":1,"r":0.03},{"a":4,"b":1,"r":0.08},{"a":11,"b":1,"r":0.18},{"a":15,"b":1,"r":0.3},{"a":1,"b":1,"r":1},{"a":13,"b":1,"r":1},{"a":2,"b":1,"r":-0.01},{"a":6,"b":1,"r":0.08},
{"a":9,"b":13,"r":0.6},{"a":14,"b":13,"r":0.14},{"a":3,"b":13,"r":0.14},{"a":10,"b":13,"r":0.17},{"a":8,"b":13,"r":0.15},{"a":12,"b":13,"r":0.26},{"a":5,"b":13,"r":0.04},{"a":4,"b":13,"r":0.08},{"a":11,"b":13,"r":0.18},{"a":15,"b":13,"r":0.3},{"a":1,"b":13,"r":1},{"a":13,"b":13,"r":1},{"a":2,"b":13,"r":-0.01},{"a":6,"b":13,"r":0.08},
{"a":9,"b":2,"r":0.1},{"a":14,"b":2,"r":0.19},{"a":3,"b":2,"r":0.15},{"a":10,"b":2,"r":0.13},{"a":8,"b":2,"r":0.05},{"a":12,"b":2,"r":0.1},{"a":5,"b":2,"r":0.01},{"a":4,"b":2,"r":-0.03},{"a":11,"b":2,"r":-0.01},{"a":15,"b":2,"r":0.01},{"a":1,"b":2,"r":-0.01},{"a":13,"b":2,"r":-0.01},{"a":2,"b":2,"r":1},{"a":6,"b":2,"r":0.01},
{"a":9,"b":6,"r":0.12},{"a":14,"b":6,"r":0.11},{"a":3,"b":6,"r":0.14},{"a":10,"b":6,"r":0.14},{"a":8,"b":6,"r":0.15},{"a":12,"b":6,"r":0.13},{"a":5,"b":6,"r":0.06},{"a":4,"b":6,"r":0.11},{"a":11,"b":6,"r":0.12},{"a":15,"b":6,"r":0.05},{"a":1,"b":6,"r":0.08},{"a":13,"b":6,"r":0.08},{"a":2,"b":6,"r":0.01},{"a":6,"b":6,"r":1}
]
},
"vconcat":[
{"hconcat":[
{"vconcat":[
{"title":"Cold","data":{"name":"cold"},"facet":{"field":"g","type":"ordinal"},"columns":7,"spacing":{"column":12,"row":4},"bounds":"flush","resolve":{"scale":{"y":"independent","color":"independent"},"axis":{"x":"independent"},"legend":{"color":"independent"}},
"spec":{"width":34,"height":52,"encoding":{"x":{"field":"t","type":"nominal","sort":["Root","Stem","Leaf"],"scale":{"paddingInner":0.12,"paddingOuter":0.1}},"xOffset":{"field":"c","sort":["CK","6h","24h"]}},"layer":[
{"mark":{"type":"rule","opacity":0},"encoding":{"y":{"field":"m","type":"quantitative"}}},
{"mark":{"type":"bar","stroke":"#888","strokeWidth":0.2},"encoding":{"y":{"field":"v","type":"quantitative","title":"Relative expression","scale":{"nice":false}},"color":{"field":"c","scale":{"domain":["CK","6h","24h"],"range":["#40B0E8","#EEEA8E","#F4908E"]}}}},
{"mark":{"type":"rule","color":"#666","strokeWidth":0.4},"encoding":{"y":{"field":"v","type":"quantitative"},"y2":{"field":"h"}}},
{"mark":{"type":"text","fontSize":2.4,"dy":-1.5,"color":"#333"},"encoding":{"y":{"field":"h","type":"quantitative"},"text":{"field":"l"}}}
]}},
{"title":"NaCl","data":{"name":"nacl"},"facet":{"field":"g","type":"ordinal"},"columns":7,"spacing":{"column":12,"row":4},"bounds":"flush","resolve":{"scale":{"y":"independent","color":"independent"},"axis":{"x":"independent"},"legend":{"color":"independent"}},
"spec":{"width":34,"height":52,"encoding":{"x":{"field":"t","type":"nominal","sort":["Root","Stem","Leaf"],"scale":{"paddingInner":0.12,"paddingOuter":0.1}},"xOffset":{"field":"c","sort":["CK","6h","24h"]}},"layer":[
{"mark":{"type":"rule","opacity":0},"encoding":{"y":{"field":"m","type":"quantitative"}}},
{"mark":{"type":"bar","stroke":"#888","strokeWidth":0.2},"encoding":{"y":{"field":"v","type":"quantitative","title":"Relative expression","scale":{"nice":false}},"color":{"field":"c","scale":{"domain":["CK","6h","24h"],"range":["#40B0E8","#EEEA8E","#F4908E"]}}}},
{"mark":{"type":"rule","color":"#666","strokeWidth":0.4},"encoding":{"y":{"field":"v","type":"quantitative"},"y2":{"field":"h"}}},
{"mark":{"type":"text","fontSize":2.4,"dy":-1.5,"color":"#333"},"encoding":{"y":{"field":"h","type":"quantitative"},"text":{"field":"l"}}}
]}},
{"title":"Flooding","data":{"name":"flood"},"facet":{"field":"g","type":"ordinal"},"columns":7,"spacing":{"column":12,"row":4},"bounds":"flush","resolve":{"scale":{"y":"independent","color":"independent"},"axis":{"x":"independent"},"legend":{"color":"independent"}},
"spec":{"width":34,"height":52,"encoding":{"x":{"field":"t","type":"nominal","sort":["Root","Stem","Leaf"],"scale":{"paddingInner":0.12,"paddingOuter":0.1}},"xOffset":{"field":"c","sort":["CK","6h","24h"]}},"layer":[
{"mark":{"type":"rule","opacity":0},"encoding":{"y":{"field":"m","type":"quantitative"}}},
{"mark":{"type":"bar","stroke":"#888","strokeWidth":0.2},"encoding":{"y":{"field":"v","type":"quantitative","title":"Relative expression","scale":{"nice":false}},"color":{"field":"c","scale":{"domain":["CK","6h","24h"],"range":["#40B0E8","#EEEA8E","#F4908E"]}}}},
{"mark":{"type":"rule","color":"#666","strokeWidth":0.4},"encoding":{"y":{"field":"v","type":"quantitative"},"y2":{"field":"h"}}},
{"mark":{"type":"text","fontSize":2.4,"dy":-1.5,"color":"#333"},"encoding":{"y":{"field":"h","type":"quantitative"},"text":{"field":"l"}}}
]}}
],"spacing":4},
{"vconcat":[
{"title":"Heat","data":{"name":"heat"},"facet":{"field":"g","type":"ordinal"},"columns":7,"spacing":{"column":12,"row":4},"bounds":"flush","resolve":{"scale":{"y":"independent","color":"independent"},"axis":{"x":"independent"},"legend":{"color":"independent"}},
"spec":{"width":34,"height":52,"encoding":{"x":{"field":"t","type":"nominal","sort":["Root","Stem","Leaf"],"scale":{"paddingInner":0.12,"paddingOuter":0.1}},"xOffset":{"field":"c","sort":["CK","6h","24h"]}},"layer":[
{"mark":{"type":"rule","opacity":0},"encoding":{"y":{"field":"m","type":"quantitative"}}},
{"mark":{"type":"bar","stroke":"#888","strokeWidth":0.2},"encoding":{"y":{"field":"v","type":"quantitative","title":"Relative expression","scale":{"nice":false}},"color":{"field":"c","scale":{"domain":["CK","6h","24h"],"range":["#40B0E8","#EEEA8E","#F4908E"]}}}},
{"mark":{"type":"rule","color":"#666","strokeWidth":0.4},"encoding":{"y":{"field":"v","type":"quantitative"},"y2":{"field":"h"}}},
{"mark":{"type":"text","fontSize":2.4,"dy":-1.5,"color":"#333"},"encoding":{"y":{"field":"h","type":"quantitative"},"text":{"field":"l"}}}
]}},
{"title":"UV","data":{"name":"uv"},"facet":{"field":"g","type":"ordinal"},"columns":7,"spacing":{"column":12,"row":4},"bounds":"flush","resolve":{"scale":{"y":"independent","color":"independent"},"axis":{"x":"independent"},"legend":{"color":"independent"}},
"spec":{"width":34,"height":52,"encoding":{"x":{"field":"t","type":"nominal","sort":["Root","Stem","Leaf"],"scale":{"paddingInner":0.12,"paddingOuter":0.1}},"xOffset":{"field":"c","sort":["CK","6h","24h"]}},"layer":[
{"mark":{"type":"rule","opacity":0},"encoding":{"y":{"field":"m","type":"quantitative"}}},
{"mark":{"type":"bar","stroke":"#888","strokeWidth":0.2},"encoding":{"y":{"field":"v","type":"quantitative","title":"Relative expression","scale":{"nice":false}},"color":{"field":"c","scale":{"domain":["CK","6h","24h"],"range":["#40B0E8","#EEEA8E","#F4908E"]}}}},
{"mark":{"type":"rule","color":"#666","strokeWidth":0.4},"encoding":{"y":{"field":"v","type":"quantitative"},"y2":{"field":"h"}}},
{"mark":{"type":"text","fontSize":2.4,"dy":-1.5,"color":"#333"},"encoding":{"y":{"field":"h","type":"quantitative"},"text":{"field":"l"}}}
]}},
{"title":"PEG","data":{"name":"peg"},"facet":{"field":"g","type":"ordinal"},"columns":7,"spacing":{"column":12,"row":4},"bounds":"flush","resolve":{"scale":{"y":"independent","color":"independent"},"axis":{"x":"independent"},"legend":{"color":"independent"}},
"spec":{"width":34,"height":52,"encoding":{"x":{"field":"t","type":"nominal","sort":["Root","Stem","Leaf"],"scale":{"paddingInner":0.12,"paddingOuter":0.1}},"xOffset":{"field":"c","sort":["CK","6h","24h"]}},"layer":[
{"mark":{"type":"rule","opacity":0},"encoding":{"y":{"field":"m","type":"quantitative"}}},
{"mark":{"type":"bar","stroke":"#888","strokeWidth":0.2},"encoding":{"y":{"field":"v","type":"quantitative","title":"Relative expression","scale":{"nice":false}},"color":{"field":"c","scale":{"domain":["CK","6h","24h"],"range":["#40B0E8","#EEEA8E","#F4908E"]}}}},
{"mark":{"type":"rule","color":"#666","strokeWidth":0.4},"encoding":{"y":{"field":"v","type":"quantitative"},"y2":{"field":"h"}}},
{"mark":{"type":"text","fontSize":2.4,"dy":-1.5,"color":"#333"},"encoding":{"y":{"field":"h","type":"quantitative"},"text":{"field":"l"}}}
]}}
],"spacing":4}
],"spacing":32},
{"hconcat":[
{"title":{"text":"B","anchor":"start","orient":"bottom","offset":6,"fontSize":18,"dx":-15},"width":1,"height":1,"data":{"values":[{"n":1}]},"mark":{"type":"point","opacity":0},"encoding":{}},
{"columns":2,"spacing":0,"bounds":"flush","concat":[
{"width":27,"height":28,"data":{"values":[{"n":1}]},"mark":{"type":"point","opacity":0},"encoding":{}},
{"width":254,"height":28,"data":{"name":"treeTop"},"mark":{"type":"rule","color":"#555","strokeWidth":0.8},"encoding":{"x":{"field":"p","type":"quantitative","axis":null,"scale":{"domain":[0,14]}},"x2":{"field":"p2"},"y":{"field":"q","type":"quantitative","axis":null,"scale":{"domain":[0,85]}},"y2":{"field":"q2"}}},
{"width":27,"height":230,"data":{"name":"treeLeft"},"mark":{"type":"rule","color":"#555","strokeWidth":0.8},"encoding":{"y":{"field":"p","type":"quantitative","axis":null,"scale":{"domain":[0,14],"reverse":true}},"y2":{"field":"p2"},"x":{"field":"q","type":"quantitative","axis":null,"scale":{"domain":[0,80],"reverse":true}},"x2":{"field":"q2"}}},
{"width":254,"height":230,"data":{"name":"corr"},"layer":[
{"mark":{"type":"rect","stroke":"white","strokeWidth":0.5},"encoding":{"x":{"field":"a","type":"ordinal","sort":[9,14,3,10,8,12,5,4,11,15,1,13,2,6],"axis":{"title":null,"labelExpr":"'HvSPL'+datum.value","labelAngle":-45,"labelFontSize":7,"labelFontWeight":"bold","domain":false,"ticks":false,"labelColor":"#111"}},"y":{"field":"b","type":"ordinal","sort":[9,14,3,10,8,12,5,4,11,15,1,13,2,6],"axis":{"orient":"right","title":null,"labelExpr":"'HvSPL'+datum.value","labelFontSize":7,"labelFontWeight":"bold","domain":false,"ticks":false,"labelColor":"#111"}},"color":{"field":"r","type":"quantitative","scale":{"domain":[-0.2,-0.03,0.05,0.14,0.25,0.3,0.44,0.54,0.67,0.8,1],"range":["#0042C4","#0A62C8","#2A7ACB","#5596CF","#8DB8D0","#A8C8D0","#E6F0CC","#FFF5C0","#FFD0AA","#FFA68E","#FF7A6E"]},"legend":{"orient":"none","legendX":492,"legendY":444,"gradientLength":76,"gradientThickness":10,"values":[-0.2,0,0.2,0.4,0.6,0.8,1],"format":".2f","labelFontSize":5,"title":null}}}},
{"mark":{"type":"text","fontSize":5,"color":"#222"},"encoding":{"x":{"field":"a","type":"ordinal","sort":[9,14,3,10,8,12,5,4,11,15,1,13,2,6]},"y":{"field":"b","type":"ordinal","sort":[9,14,3,10,8,12,5,4,11,15,1,13,2,6]},"text":{"field":"r","format":".2f"}}}
]}
]}
],"spacing":129}
],"spacing":11,"align":"none"}
